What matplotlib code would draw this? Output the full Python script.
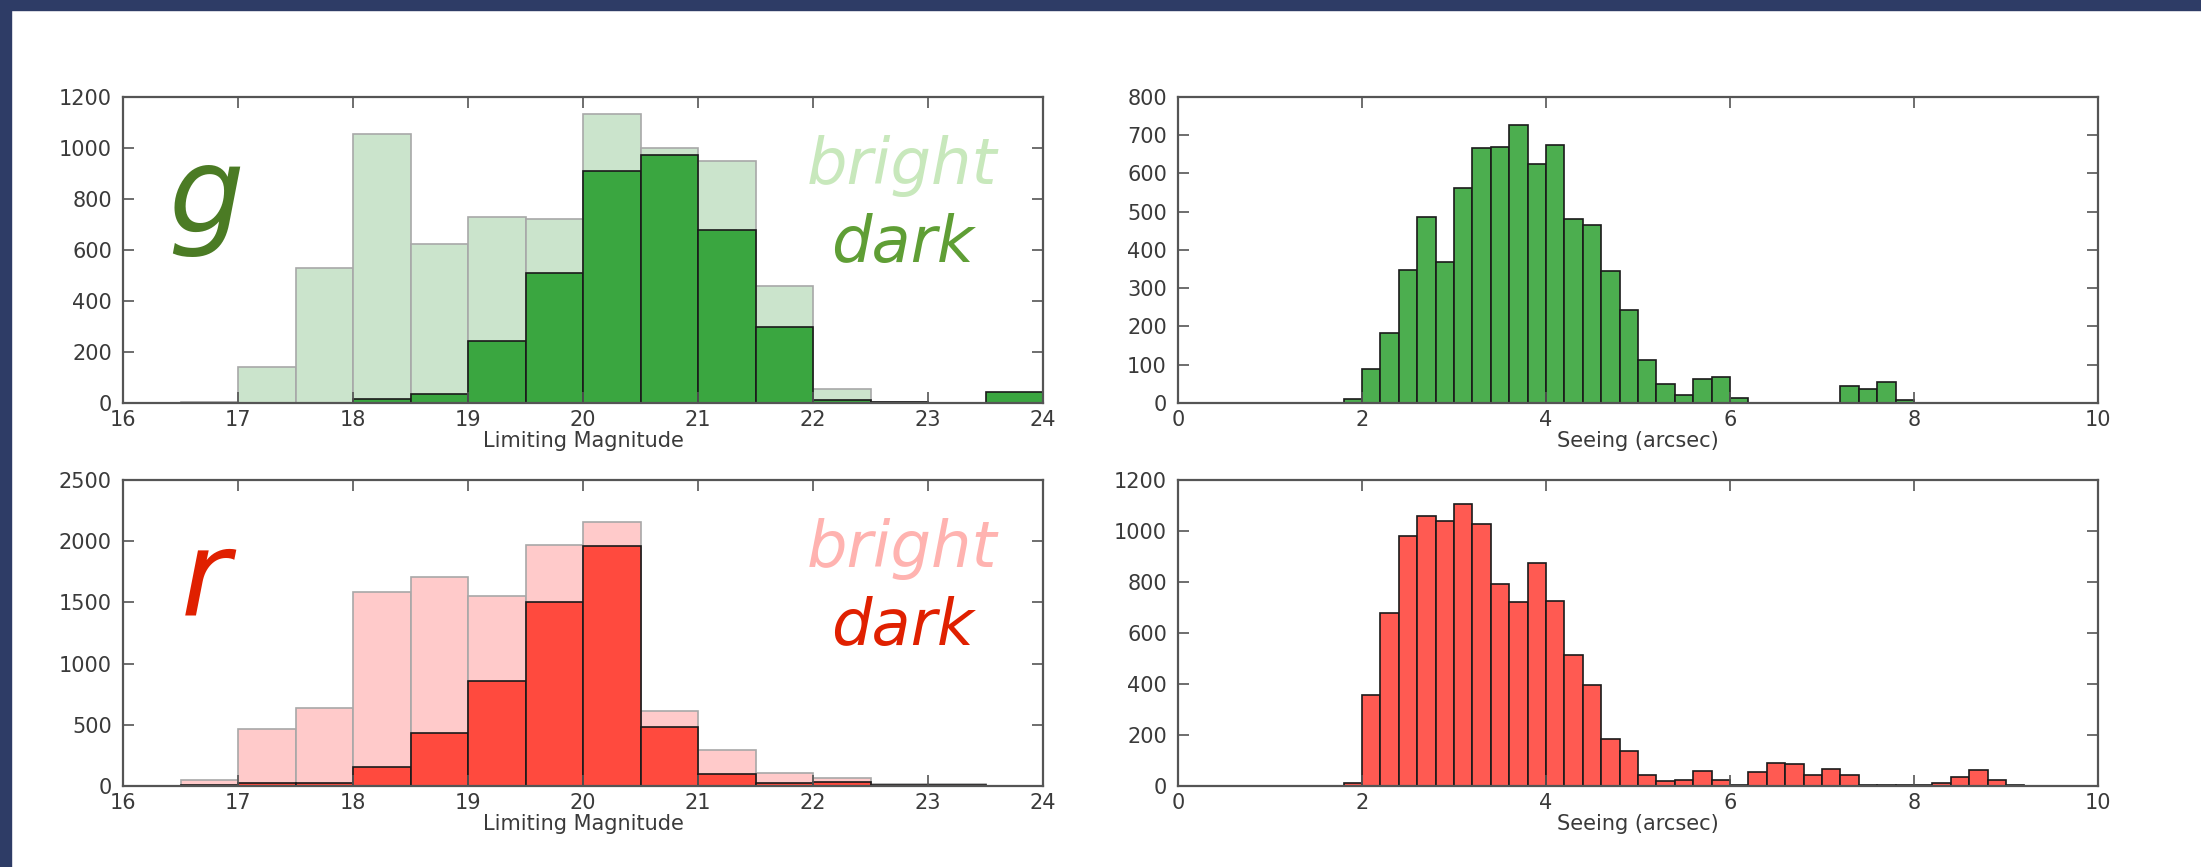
import numpy as np
import matplotlib
matplotlib.use('Agg')
from matplotlib import pyplot as plt
from matplotlib.patches import Rectangle

# limiting magnitude histograms, 0.5 mag bins from 16.5 to 24
mag_edges = np.arange(16.5, 24.01, 0.5)
g_mag_bright = [5, 140, 530, 1053, 625, 729, 721, 1135, 1001, 949, 458, 53, 3, 0, 0]
g_mag_dark = [0, 0, 0, 16, 35, 243, 508, 910, 973, 678, 298, 12, 2, 0, 44]
r_mag_bright = [46, 463, 638, 1589, 1704, 1551, 1968, 2159, 613, 292, 109, 65, 19, 14, 0]
r_mag_dark = [10, 27, 27, 155, 436, 856, 1505, 1963, 485, 95, 27, 33, 8, 8, 0]

# seeing histograms, 0.2 arcsec bins from 1.8 to 9.2
see_edges = np.arange(1.8, 9.21, 0.2)
g_seeing = [10, 88, 182, 347, 486, 368, 562, 666, 670, 726, 624, 674, 480, 466, 344,
            243, 113, 49, 22, 62, 69, 14, 0, 0, 0, 0, 0, 45, 36, 56, 8, 0, 0, 0, 0, 0, 0]
r_seeing = [12, 358, 678, 982, 1060, 1038, 1106, 1028, 793, 721, 874, 725, 512, 397, 185,
            136, 42, 20, 22, 57, 22, 3, 55, 91, 86, 44, 68, 42, 4, 4, 5, 5, 12, 35, 61, 22, 4]

W, H = 2201, 867
fig = plt.figure(figsize=(W / 100, H / 100), dpi=100)
fig.patch.set_facecolor('white')

# slide background strips
fig.patches.append(Rectangle((0, 1 - 10 / H), 1, 10 / H, transform=fig.transFigure,
                             color='#2e3c66', zorder=-10))
fig.patches.append(Rectangle((0, 0), 11 / W, 1, transform=fig.transFigure,
                             color='#2e3c66', zorder=-10))

axw, axh = 920 / W, 306 / H
ax_gm = fig.add_axes([123 / W, 1 - 403 / H, axw, axh])
ax_gs = fig.add_axes([1178 / W, 1 - 403 / H, axw, axh])
ax_rm = fig.add_axes([123 / W, 1 - 786 / H, axw, axh])
ax_rs = fig.add_axes([1178 / W, 1 - 786 / H, axw, axh])


def style(ax, xlim, xstep, ylim, ystep, xlabel):
    ax.set_xlim(*xlim)
    ax.set_ylim(*ylim)
    ax.set_xticks(np.arange(xlim[0], xlim[1] + 0.01, xstep))
    ax.set_yticks(np.arange(ylim[0], ylim[1] + 0.01, ystep))
    ax.tick_params(direction='in', length=8, width=1.2, color='#555555',
                   labelsize=15, labelcolor='#3a3a3a', pad=5,
                   top=True, right=True)
    ax.tick_params(axis='y', pad=8)
    for s in ax.spines.values():
        s.set_color('#555555')
        s.set_linewidth(1.6)
    ax.set_xlabel(xlabel, fontsize=15, color='#3a3a3a', labelpad=1)


def mag_panel(ax, bright, dark, light_fc, dark_fc, letter, letter_color, bright_color,
              dark_color, ylim, ystep):
    w = np.diff(mag_edges)
    ax.bar(mag_edges[:-1], bright, width=w, align='edge', color=light_fc,
           edgecolor='#a8a8a8', linewidth=1.2)
    ax.bar(mag_edges[:-1], dark, width=w, align='edge', color=dark_fc,
           edgecolor='#1a1a1a', linewidth=1.2)
    style(ax, (16, 24), 1, (0, ylim), ystep, 'Limiting Magnitude')
    ax.text(0.09, 0.56, letter, transform=ax.transAxes, fontsize=86, style='italic',
            color=letter_color, ha='center', va='baseline')
    ax.text(0.847, 0.716, 'bright', transform=ax.transAxes, fontsize=46, style='italic',
            color=bright_color, ha='center', va='baseline')
    ax.text(0.847, 0.461, 'dark', transform=ax.transAxes, fontsize=46, style='italic',
            color=dark_color, ha='center', va='baseline')


def seeing_panel(ax, counts, fc, ylim, ystep):
    w = np.diff(see_edges)
    ax.bar(see_edges[:-1], counts, width=w, align='edge', color=fc,
           edgecolor='#1a1a1a', linewidth=1.2)
    style(ax, (0, 10), 2, (0, ylim), ystep, 'Seeing (arcsec)')


mag_panel(ax_gm, g_mag_bright, g_mag_dark, '#cbe4cc', '#3aa640', 'g', '#4b7b24',
          '#c8e8bc', '#5f9e35', 1200, 200)
mag_panel(ax_rm, r_mag_bright, r_mag_dark, '#ffcaca', '#ff4a3e', 'r', '#e02000',
          '#ffb3b0', '#e02000', 2500, 500)
seeing_panel(ax_gs, g_seeing, '#4cae4f', 800, 100)
seeing_panel(ax_rs, r_seeing, '#ff5a52', 1200, 200)

fig.savefig('out.png', dpi=100)
